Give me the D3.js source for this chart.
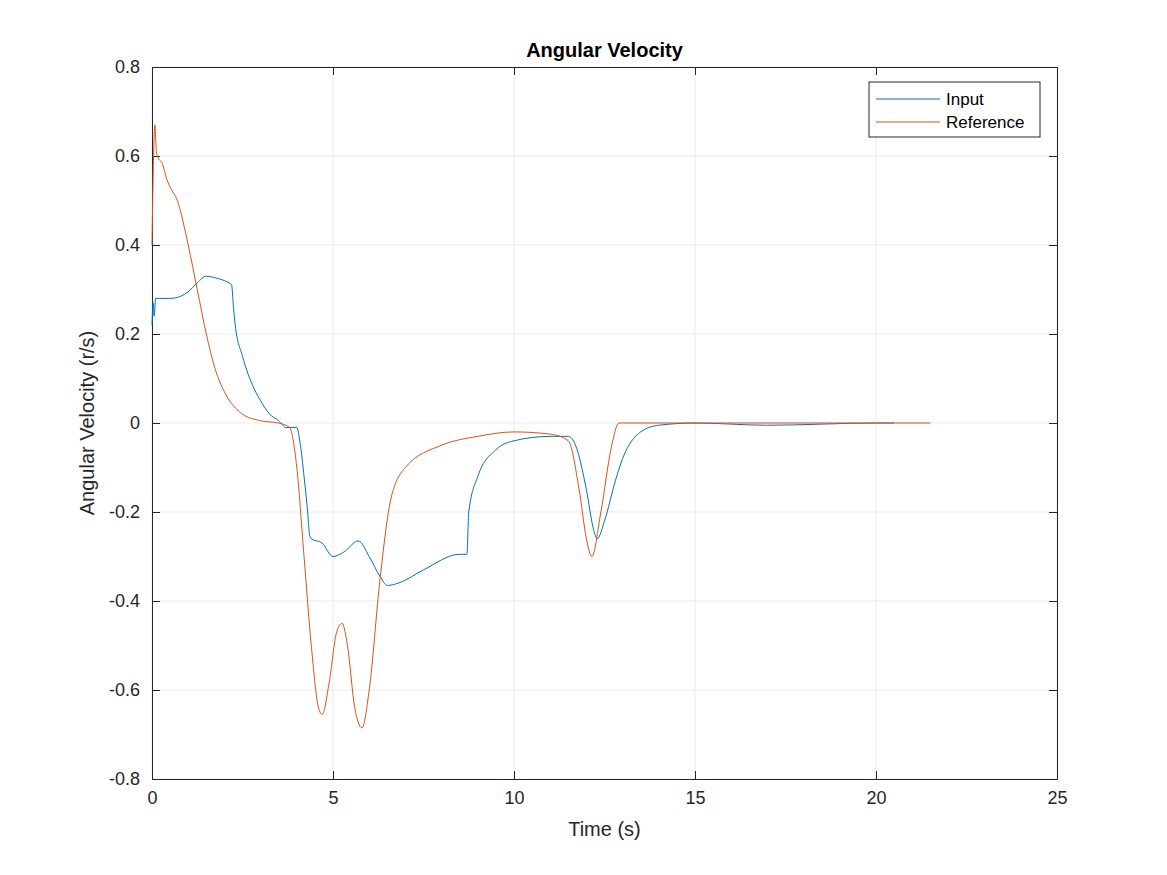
<!DOCTYPE html>
<html><head><meta charset="utf-8">
<script src="https://cdn.jsdelivr.net/npm/d3@7"></script>
<style>body{margin:0;background:#fff}</style></head>
<body><svg id="c" width="1167" height="875"></svg>
<script>
const xTicks=[0,5,10,15,20,25];
const yTicks=[-0.8,-0.6,-0.4,-0.2,0,0.2,0.4,0.6,0.8];
const inputT=[0,0.03,0.06,0.1,0.2,0.5,0.8,1,1.25,1.5,1.8,2,2.2,2.25,2.3,2.5,2.75,3,3.25,3.5,3.7,4.0,4.1,4.2,4.3,4.35,4.4,4.7,5,5.3,5.7,6.0,6.3,6.5,6.8,7.5,8.5,8.7,8.75,9,9.5,10,11,11.5,11.7,12,12.2,12.3,12.5,12.8,13,13.5,14,15,17,20,20.5];
const inputV=[0.22,0.27,0.24,0.28,0.28,0.28,0.285,0.295,0.315,0.33,0.325,0.32,0.31,0.26,0.22,0.15,0.09,0.05,0.02,0.005,-0.01,-0.01,-0.05,-0.12,-0.2,-0.25,-0.26,-0.27,-0.3,-0.29,-0.265,-0.3,-0.345,-0.365,-0.36,-0.33,-0.295,-0.295,-0.2,-0.12,-0.06,-0.04,-0.03,-0.03,-0.05,-0.15,-0.24,-0.26,-0.22,-0.13,-0.08,-0.02,-0.005,0,-0.005,0,0];
const refT=[0,0.05,0.08,0.12,0.15,0.3,0.4,0.5,0.7,1,1.25,1.5,1.75,2,2.5,3,3.5,3.8,4.0,4.2,4.4,4.6,4.7,4.9,5.1,5.25,5.4,5.6,5.8,6.0,6.3,6.6,7,8,9,10,11,11.5,11.8,12,12.15,12.4,12.7,12.9,13,21.5];
const refV=[0.4,0.62,0.67,0.61,0.6,0.58,0.55,0.53,0.5,0.4,0.3,0.2,0.12,0.07,0.02,0.005,0,-0.01,-0.1,-0.3,-0.5,-0.64,-0.655,-0.58,-0.47,-0.45,-0.5,-0.64,-0.685,-0.6,-0.35,-0.17,-0.1,-0.05,-0.03,-0.02,-0.025,-0.04,-0.15,-0.26,-0.3,-0.2,-0.05,0,0,0];
const L=152,R=1057,T=67,B=779;
const svg=d3.select("#c");
const x=d3.scaleLinear().domain([0,25]).range([L,R]);
const y=d3.scaleLinear().domain([-0.8,0.8]).range([B,T]);
const g=svg.append("g");
xTicks.forEach(t=>g.append("line").attr("x1",x(t)).attr("x2",x(t)).attr("y1",T).attr("y2",B).attr("stroke","#ebebeb"));
yTicks.forEach(t=>g.append("line").attr("x1",L).attr("x2",R).attr("y1",y(t)).attr("y2",y(t)).attr("stroke","#ebebeb"));
const f="Helvetica, Arial, 'Liberation Sans', sans-serif";
svg.append("g").attr("transform",`translate(0,${B})`).call(d3.axisBottom(x).tickValues(xTicks).tickSize(-8).tickPadding(12).tickFormat(d3.format("d"))).call(a=>{a.selectAll("text").attr("font-size",18).attr("font-family",f).attr("fill","#262626");a.selectAll("line,path").attr("stroke","#262626")});
svg.append("g").attr("transform",`translate(0,${T})`).call(d3.axisTop(x).tickValues(xTicks).tickSize(-8).tickFormat("")).call(a=>a.selectAll("line,path").attr("stroke","#262626"));
svg.append("g").attr("transform",`translate(${L},0)`).call(d3.axisLeft(y).tickValues(yTicks).tickSize(-8).tickPadding(12).tickFormat(d=>d===0?"0":d.toFixed(1))).call(a=>{a.selectAll("text").attr("font-size",18).attr("font-family",f).attr("fill","#262626");a.selectAll("line,path").attr("stroke","#262626")});
svg.append("g").attr("transform",`translate(${R},0)`).call(d3.axisRight(y).tickValues(yTicks).tickSize(-8).tickFormat("")).call(a=>a.selectAll("line,path").attr("stroke","#262626"));
const line=d3.line().x(d=>x(d[0])).y(d=>y(d[1])).curve(d3.curveMonotoneX);
svg.append("path").attr("d",line(inputT.map((t,i)=>[t,inputV[i]]))).attr("fill","none").attr("stroke","#0072bd").attr("stroke-width",1);
svg.append("path").attr("d",line(refT.map((t,i)=>[t,refV[i]]))).attr("fill","none").attr("stroke","#d95319").attr("stroke-width",1);
svg.append("text").attr("x",(L+R)/2).attr("y",57).attr("text-anchor","middle").attr("font-family",f).attr("font-weight","bold").attr("font-size",20).text("Angular Velocity");
svg.append("text").attr("x",(L+R)/2).attr("y",836).attr("text-anchor","middle").attr("font-family",f).attr("font-size",20).attr("fill","#262626").text("Time (s)");
svg.append("text").attr("transform",`translate(94,${(T+B)/2}) rotate(-90)`).attr("text-anchor","middle").attr("font-family",f).attr("font-size",20).attr("fill","#262626").text("Angular Velocity (r/s)");
const lg=svg.append("g");
lg.append("rect").attr("x",869).attr("y",82).attr("width",171).attr("height",55).attr("fill","#fff").attr("stroke","#262626");
[["Input","#0072bd"],["Reference","#d95319"]].forEach((s,i)=>{const yy=99+i*23;
lg.append("line").attr("x1",876).attr("x2",940).attr("y1",yy).attr("y2",yy).attr("stroke",s[1]);
lg.append("text").attr("x",946).attr("y",yy+6).attr("font-family",f).attr("font-size",17).text(s[0]);});
</script></body></html>
